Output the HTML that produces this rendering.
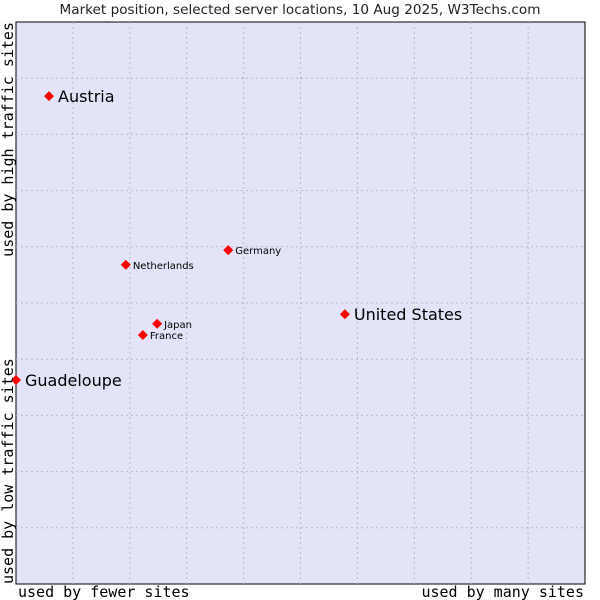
<!DOCTYPE html>
<html><head><meta charset="utf-8"><style>
body{margin:0;background:#fff}
svg{display:block}
</style></head><body>
<svg width="600" height="600" id="chart">
<text x="300" y="14" text-anchor="middle" font-family="DejaVu Sans, Liberation Sans, sans-serif" font-size="13.6" fill="#222">Market position, selected server locations, 10 Aug 2025, W3Techs.com</text>
<rect x="16" y="22" width="569" height="562" fill="#e3e4f8" stroke="#000" stroke-width="1"/>
<g id="grid"></g>
<g id="points"></g>
<text x="18" y="597" font-family="DejaVu Sans Mono, Liberation Mono, monospace" font-size="15" fill="#000">used by fewer sites</text>
<text x="584" y="597" text-anchor="end" font-family="DejaVu Sans Mono, Liberation Mono, monospace" font-size="15" fill="#000">used by many sites</text>
<text transform="translate(13,584) rotate(-90)" font-family="DejaVu Sans Mono, Liberation Mono, monospace" font-size="15" fill="#000">used by low traffic sites</text>
<text transform="translate(13,22) rotate(-90)" text-anchor="end" font-family="DejaVu Sans Mono, Liberation Mono, monospace" font-size="15" fill="#000">used by high traffic sites</text>
</svg>
<script>
const names = ["Austria","Germany","Netherlands","United States","Japan","France","Guadeloupe"];
const xValues = [5.8,37.3,19.3,57.8,24.8,22.3,0];
const yValues = [86.8,59.4,56.8,48.0,46.3,44.3,36.3];
const bigLabel = [true,false,false,true,false,false,true];
const ns="http://www.w3.org/2000/svg";
const X0=16,X1=585,Y0=584,Y1=22;
function sx(v){return X0+(X1-X0)*v/100;}
function sy(v){return Y0-(Y0-Y1)*v/100;}
const grid=document.getElementById('grid');
for(let i=1;i<10;i++){
  const v=document.createElementNS(ns,'line');
  v.setAttribute('x1',sx(i*10));v.setAttribute('x2',sx(i*10));v.setAttribute('y1',Y1);v.setAttribute('y2',Y0);
  v.setAttribute('stroke','#bbb');v.setAttribute('stroke-dasharray','2,3');
  
  
  grid.appendChild(v);
  const h=document.createElementNS(ns,'line');
  h.setAttribute('y1',sy(i*10));h.setAttribute('y2',sy(i*10));h.setAttribute('x1',X0);h.setAttribute('x2',X1);
  h.setAttribute('stroke','#bbb');h.setAttribute('stroke-dasharray','2,3');
  
  
  grid.appendChild(h);
}
const pts=document.getElementById('points');
names.forEach((n,i)=>{
  const cx=sx(xValues[i]),cy=sy(yValues[i]);
  const r=5;
  const d=document.createElementNS(ns,'path');
  d.setAttribute('d',`M${cx} ${cy-r}L${cx+r} ${cy}L${cx} ${cy+r}L${cx-r} ${cy}Z`);
  d.setAttribute('fill','#f00');
  
  
  pts.appendChild(d);
  const t=document.createElementNS(ns,'text');
  t.setAttribute('x',cx+(bigLabel[i]?9:7));
  t.setAttribute('y',cy+(bigLabel[i]?6:4));
  t.setAttribute('font-family','DejaVu Sans, Liberation Sans, sans-serif');
  t.setAttribute('font-size',bigLabel[i]?16:10);
  t.setAttribute('fill','#000');
  t.textContent=n;
  
  
  pts.appendChild(t);
});
</script>
</body></html>
